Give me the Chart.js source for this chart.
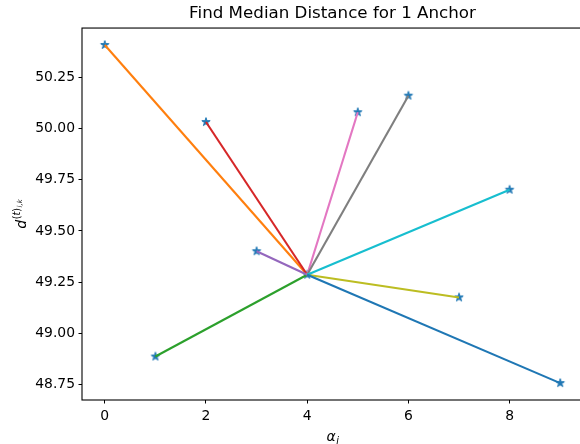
<!DOCTYPE html>
<html>
<head>
<meta charset="utf-8">
<script src="https://cdn.jsdelivr.net/npm/chart.js@4.4.1/dist/chart.umd.min.js"></script>
<style>
  html, body { margin: 0; padding: 0; background: #fff; overflow: hidden; width: 580px; height: 444px; }
  #wrap { width: 589px; height: 444px; }
  canvas { display: block; }
</style>
</head>
<body>
<div id="wrap"><canvas id="c" width="589" height="444"></canvas></div>
<script>
// ---- data ----
const alphas = [0, 1, 2, 3, 4, 5, 6, 7, 8, 9];
const distances = [50.41, 48.886, 50.033, 49.401, 49.286, 50.081, 50.162, 49.175, 49.702, 48.756];
const anchorIndex = 4;
const lineColors = ['#ff7f0e', '#2ca02c', '#d62728', '#9467bd', '#8c564b',
                    '#e377c2', '#7f7f7f', '#bcbd22', '#17becf', '#1f77b4'];
const xTicks = [0, 2, 4, 6, 8];
const yTicks = [48.75, 49.00, 49.25, 49.50, 49.75, 50.00, 50.25];
const titleText = 'Find Median Distance for 1 Anchor';

// axis limits with matplotlib-like 5% margins
const xMinD = Math.min(...alphas), xMaxD = Math.max(...alphas);
const yMinD = Math.min(...distances), yMaxD = Math.max(...distances);
const xPad = (xMaxD - xMinD) * 0.05, yPad = (yMaxD - yMinD) * 0.05;

// star marker image (matplotlib '*')
function makeStar(color, r) {
  const s = Math.ceil(r * 2 + 3);
  const c = document.createElement('canvas');
  c.width = s; c.height = s;
  const g = c.getContext('2d');
  const cx = s / 2, cy = s / 2, ri = r * 0.381966;
  g.beginPath();
  for (let k = 0; k < 10; k++) {
    const rad = k % 2 === 0 ? r : ri;
    const a = -Math.PI / 2 + k * Math.PI / 5;
    const px = cx + rad * Math.cos(a), py = cy + rad * Math.sin(a);
    if (k === 0) g.moveTo(px, py); else g.lineTo(px, py);
  }
  g.closePath();
  g.fillStyle = color; g.fill();
  g.lineWidth = 1; g.strokeStyle = color; g.stroke();
  return c;
}
const starImg = makeStar('#1f77b4', 4.4);

const datasets = [];
alphas.forEach((a, i) => {
  datasets.push({
    type: 'line',
    data: [{ x: alphas[anchorIndex], y: distances[anchorIndex] }, { x: a, y: distances[i] }],
    borderColor: lineColors[i],
    borderWidth: 2.1,
    pointRadius: 0,
    fill: false,
    order: 10 - i
  });
});
datasets.push({
  type: 'scatter',
  data: alphas.map((a, i) => ({ x: a, y: distances[i] })),
  pointStyle: starImg,
  pointRadius: 5,
  order: 20
});

const fontFam = "'DejaVu Sans', sans-serif";

const framePlugin = {
  id: 'frame',
  afterDraw(chart) {
    const { ctx, chartArea: ca } = chart;
    ctx.save();
    ctx.strokeStyle = '#000';
    ctx.lineWidth = 1.1;
    ctx.strokeRect(ca.left, ca.top, ca.right - ca.left, ca.bottom - ca.top);

    // x label: alpha_i
    ctx.fillStyle = '#000';
    ctx.textBaseline = 'alphabetic';
    const cxm = (ca.left + ca.right) / 2;
    ctx.font = "italic 14px " + fontFam;
    const wA = ctx.measureText('α').width;
    ctx.font = "italic 9.8px " + fontFam;
    const wI = ctx.measureText('i').width;
    let x0 = cxm - (wA + wI) / 2;
    ctx.font = "italic 14px " + fontFam;
    ctx.fillText('α', x0, 441);
    ctx.font = "italic 9.8px " + fontFam;
    ctx.fillText('i', x0 + wA + 0.5, 444);

    // y label: d^{(t)_{i,k}}
    ctx.translate(22, (ca.top + ca.bottom) / 2);
    ctx.rotate(-Math.PI / 2);
    ctx.font = "italic 14px " + fontFam;
    const wd = ctx.measureText('d').width;
    ctx.font = "9.8px " + fontFam;
    const wp1 = ctx.measureText('(').width;
    ctx.font = "italic 9.8px " + fontFam;
    const wt = ctx.measureText('t').width;
    ctx.font = "9.8px " + fontFam;
    const wp2 = ctx.measureText(')').width;
    ctx.font = "italic 6.9px " + fontFam;
    const wik = ctx.measureText('i,k').width;
    const total = wd + wp1 + wt + wp2 + wik + 1;
    let px = -total / 2;
    ctx.font = "italic 14px " + fontFam;
    ctx.fillText('d', px, 4); px += wd + 0.5;
    ctx.font = "9.8px " + fontFam;
    ctx.fillText('(', px, -2.5); px += wp1;
    ctx.font = "italic 9.8px " + fontFam;
    ctx.fillText('t', px, -2.5); px += wt;
    ctx.font = "9.8px " + fontFam;
    ctx.fillText(')', px, -2.5); px += wp2 + 0.5;
    ctx.font = "italic 6.9px " + fontFam;
    ctx.fillText('i,k', px, 0);
    ctx.restore();
  }
};

new Chart(document.getElementById('c'), {
  type: 'scatter',
  data: { datasets },
  plugins: [framePlugin],
  options: {
    responsive: false,
    animation: false,
    layout: { padding: { left: 0, right: 1, top: 0, bottom: 0 } },
    plugins: {
      legend: { display: false },
      tooltip: { enabled: false },
      title: {
        display: true,
        fullSize: false,
        text: titleText,
        color: '#000',
        font: { family: fontFam, size: 16.7, weight: 'normal', lineHeight: 1.2 },
        padding: { top: 4, bottom: 4 }
      }
    },
    scales: {
      x: {
        type: 'linear',
        min: xMinD - xPad,
        max: xMaxD + xPad,
        afterBuildTicks(scale) { scale.ticks = xTicks.map(v => ({ value: v })); },
        afterFit(scale) { scale.height = 44; },
        grid: { display: true, drawOnChartArea: false, drawTicks: true, tickLength: 3.5, tickColor: '#000', tickWidth: 1 },
        border: { display: false },
        ticks: {
          color: '#000', padding: 5, maxRotation: 0, autoSkip: false,
          font: { family: fontFam, size: 13.9 },
          callback: v => String(v)
        }
      },
      y: {
        type: 'linear',
        min: yMinD - yPad,
        max: yMaxD + yPad,
        afterBuildTicks(scale) { scale.ticks = yTicks.map(v => ({ value: v })); },
        afterFit(scale) { scale.width = 82; },
        grid: { display: true, drawOnChartArea: false, drawTicks: true, tickLength: 3.5, tickColor: '#000', tickWidth: 1 },
        border: { display: false },
        ticks: {
          color: '#000', padding: 3.5, autoSkip: false,
          font: { family: fontFam, size: 13.9 },
          callback: v => Number(v).toFixed(2)
        }
      }
    }
  }
});
</script>
</body>
</html>
